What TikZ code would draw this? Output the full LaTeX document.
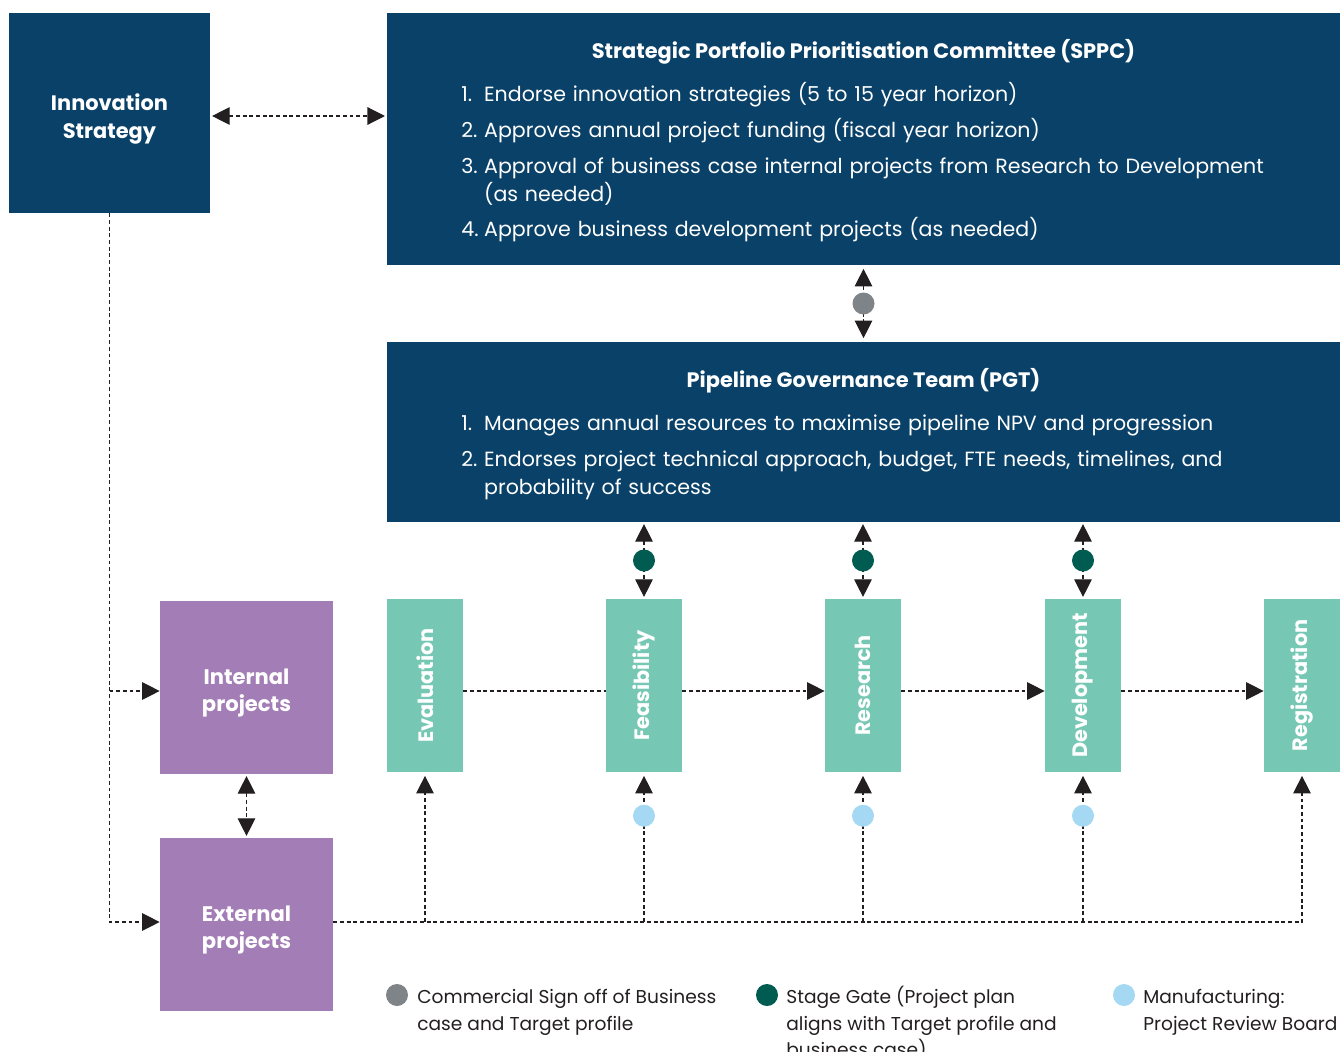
\documentclass[tikz,border=0pt]{standalone}
\usepackage{fontspec}
\setmainfont{Poppins}
\usetikzlibrary{arrows.meta}

\definecolor{govblue}{HTML}{0A4168}
\definecolor{stageteal}{HTML}{76C8B4}
\definecolor{projpurple}{HTML}{A37DB5}
\definecolor{signgrey}{HTML}{7F8489}
\definecolor{gategreen}{HTML}{005B50}
\definecolor{mfgblue}{HTML}{A5D8F3}
\definecolor{arrowink}{HTML}{231F20}

\newcommand{\numitem}[2]{\noindent\strut\makebox[13pt][l]{#1}\parbox[t]{16.5cm}{\raggedright #2\strut}\par\prevdepth=\dp\strutbox}

\begin{document}
\begin{tikzpicture}[x=0.02cm,y=-0.02cm,
  govbox/.style={fill=govblue,inner sep=0pt,text=white},
  boxtitle/.style={text=white,inner sep=0pt,font=\bfseries\fontsize{11.9}{14}\selectfont},
  boxlist/.style={text=white,anchor=north west,inner sep=0pt,text width=17.5cm,align=left,
    font=\fontsize{11.7}{15.9}\selectfont\setlength{\parskip}{4.4pt}},
  stagebox/.style={fill=stageteal,inner sep=0pt,minimum width=1.52cm,minimum height=3.46cm,
    text=white,font=\bfseries\fontsize{11.85}{14}\selectfont},
  projbox/.style={fill=projpurple,inner sep=0pt,minimum size=3.46cm},
  projtext/.style={text=white,inner sep=0pt,align=center,font=\bfseries\fontsize{12}{15.9}\selectfont},
  flow/.style={draw=arrowink,line width=0.7pt,dash pattern=on 2.2pt off 1.6pt},
  flowarrow/.style={flow,-{Triangle[width=10pt,length=10pt]}},
  flowboth/.style={flow,{Triangle[width=10pt,length=10pt]}-{Triangle[width=10pt,length=10pt]}},
  gatedot/.style={circle,inner sep=0pt,minimum size=0.44cm},
  legendtext/.style={anchor=north west,inner sep=0pt,align=left,text=arrowink,
    font=\fontsize{10.6}{15}\selectfont}]
\useasboundingbox (0,0) rectangle (1340,1052);
\coordinate (strategyrow) at (0,116);
\coordinate (flowrow) at (0,691);
\coordinate (busrow) at (0,922);

\node[govbox,minimum width=4.02cm,minimum height=4cm] (innov) at (109.5,113) {};
\node[boxtitle,align=center,font=\bfseries\fontsize{11.9}{15.9}\selectfont] (innovtext) at (109.5,119) {Innovation\\Strategy};

\node[govbox,minimum width=19.06cm,minimum height=5.04cm] (sppc) at (863.5,139) {};
\node[boxtitle] (sppctitle) at (863.5,52) {Strategic Portfolio Prioritisation Committee (SPPC)};
\node[boxlist] (sppclist) at (461,82) {%
  \numitem{1.}{Endorse innovation strategies (5 to 15 year horizon)}
  \numitem{2.}{Approves annual project funding (fiscal year horizon)}
  \numitem{3.}{Approval of business case internal projects from Research to Development\\(as needed)}
  \numitem{4.}{Approve business development projects (as needed)}};

\node[govbox,minimum width=19.06cm,minimum height=3.6cm] (pgt) at (863.5,432) {};
\node[boxtitle] (pgttitle) at (863.5,381) {Pipeline Governance Team (PGT)};
\node[boxlist] (pgtlist) at (461,410.5) {%
  \numitem{1.}{Manages annual resources to maximise pipeline NPV and progression}
  \numitem{2.}{Endorses project technical approach, budget, FTE needs, timelines, and\\probability of success}};

\node[projbox] (int) at (246.5,687.5) {};
\node[projtext] (inttext) at (246.5,693) {Internal\\projects};
\node[projbox] (ext) at (246.5,924.5) {};
\node[projtext] (exttext) at (246.5,930) {External\\projects};

\node[stagebox] (eval) at (425,685.5) {\rotatebox{90}{Evaluation}};
\node[stagebox] (feas) at (644,685.5) {\rotatebox{90}{Feasibility}};
\node[stagebox] (res) at (863,685.5) {\rotatebox{90}{Research}};
\node[stagebox] (dev) at (1083,685.5) {\rotatebox{90}{Development}};
\node[stagebox] (regi) at (1302,685.5) {\rotatebox{90}{Registration}};

\draw[flowboth,shorten <=1pt,shorten >=1pt] (innov.east |- strategyrow) -- (sppc.west |- strategyrow);
\draw[flowboth,shorten <=2pt,shorten >=2pt] (sppc.south) -- (pgt.north)
  node[midway,gatedot,fill=signgrey] (sign) {};
\draw[flowboth,shorten <=1pt,shorten >=1pt] (pgt.south -| feas.north) -- (feas.north)
  node[midway,gatedot,fill=gategreen] (gatefeas) {};
\draw[flowboth,shorten <=1pt,shorten >=1pt] (pgt.south -| res.north) -- (res.north)
  node[midway,gatedot,fill=gategreen] (gateres) {};
\draw[flowboth,shorten <=1pt,shorten >=1pt] (pgt.south -| dev.north) -- (dev.north)
  node[midway,gatedot,fill=gategreen] (gatedev) {};

\draw[flow] (eval.east |- flowrow) -- (feas.west |- flowrow);
\draw[flowarrow] (feas.east |- flowrow) -- (res.west |- flowrow);
\draw[flowarrow] (res.east |- flowrow) -- (dev.west |- flowrow);
\draw[flowarrow] (dev.east |- flowrow) -- (regi.west |- flowrow);

\draw[flowarrow] (innov.south) |- (ext.west |- busrow);
\draw[flowarrow] (innov.south |- flowrow) -- (int.west |- flowrow);
\draw[flowboth,shorten <=1pt,shorten >=1pt] (int.south) -- (ext.north);

\draw[flowarrow,shorten >=2pt] (ext.east |- busrow) -| (regi.south);
\draw[flowarrow,shorten >=2pt] (eval.south |- busrow) -- (eval.south);
\draw[flowarrow,shorten >=2pt] (feas.south |- busrow) -- (feas.south)
  node[pos=0.71,gatedot,fill=mfgblue] (mfgfeas) {};
\draw[flowarrow,shorten >=2pt] (res.south |- busrow) -- (res.south)
  node[pos=0.71,gatedot,fill=mfgblue] (mfgres) {};
\draw[flowarrow,shorten >=2pt] (dev.south |- busrow) -- (dev.south)
  node[pos=0.71,gatedot,fill=mfgblue] (mfgdev) {};

\node[gatedot,fill=signgrey] (keysign) at (397,995) {};
\node[legendtext] (keysigntext) at (417,985) {\strut Commercial Sign off of Business\\case and Target profile};
\node[gatedot,fill=gategreen] (keygate) at (767,995) {};
\node[legendtext] (keygatetext) at (786,985) {\strut Stage Gate (Project plan\\aligns with Target profile and\\business case)};
\node[gatedot,fill=mfgblue] (keymfg) at (1124,995) {};
\node[legendtext] (keymfgtext) at (1143,985) {\strut Manufacturing:\\Project Review Board};
\end{tikzpicture}
\end{document}
